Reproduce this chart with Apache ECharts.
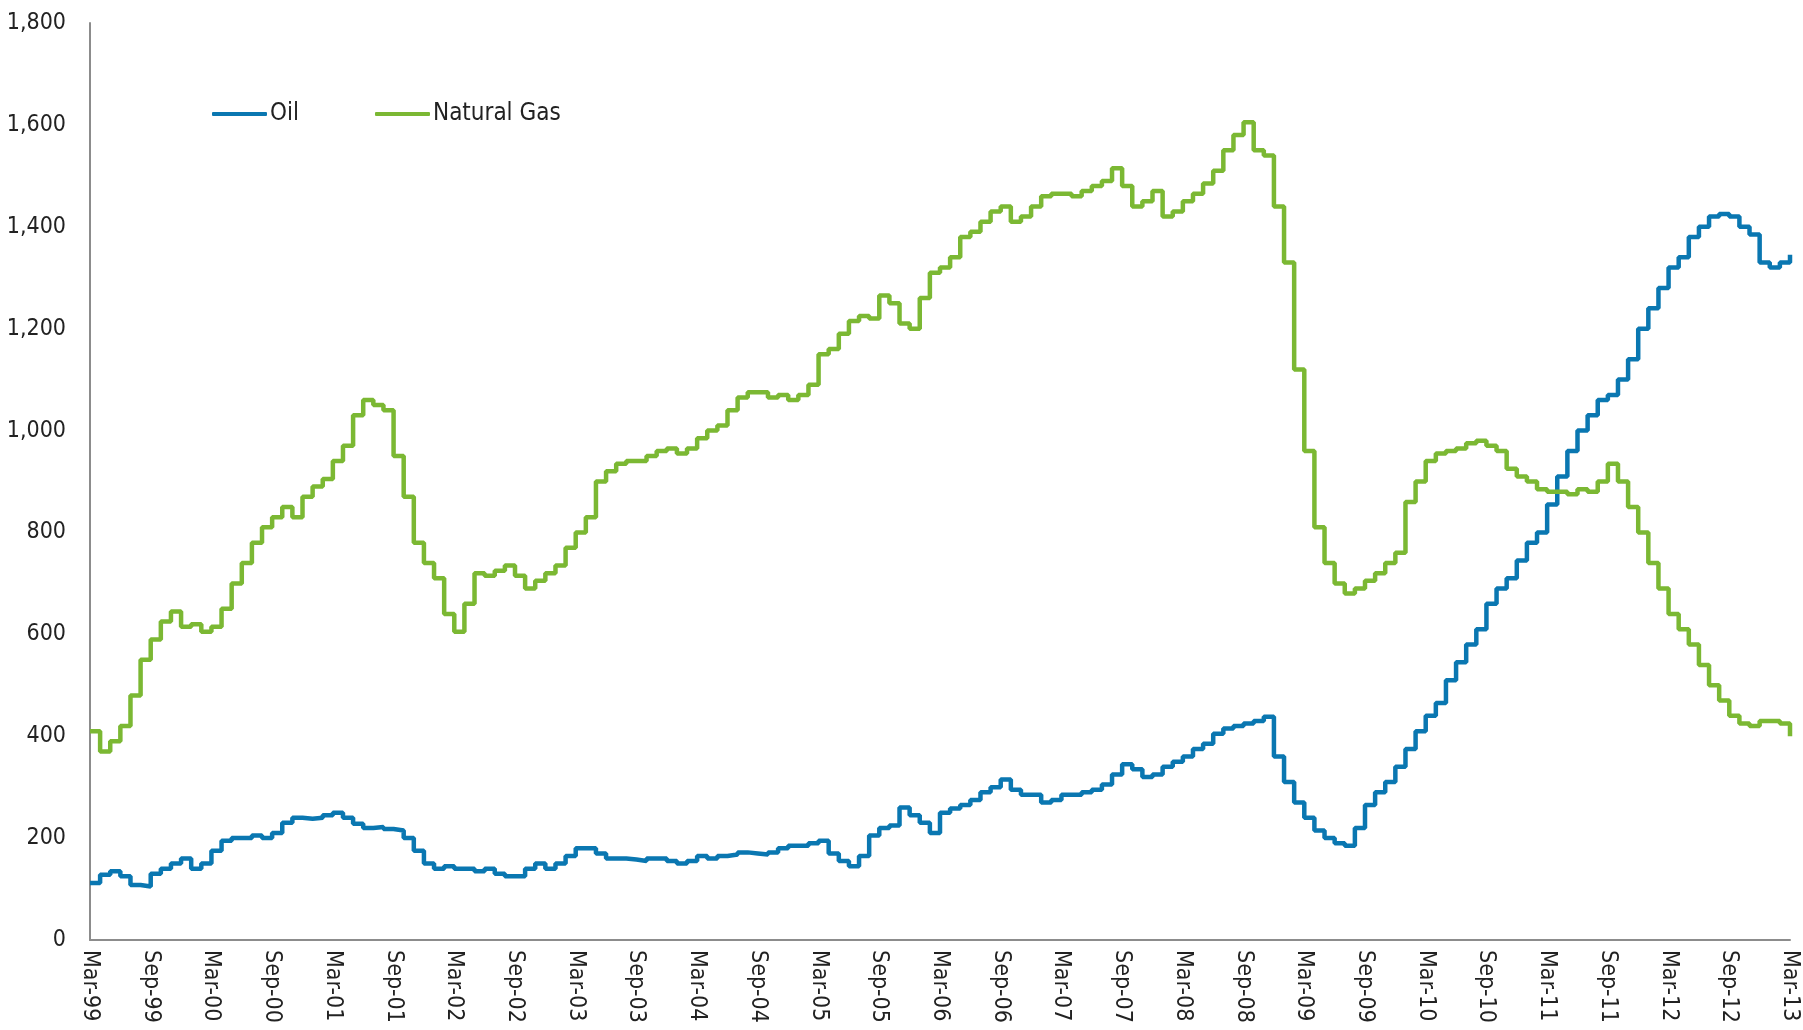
<!DOCTYPE html>
<html>
<head>
<meta charset="utf-8">
<title>Oil and Natural Gas rigs</title>
<script src="https://cdn.jsdelivr.net/npm/echarts@6/dist/echarts.min.js"></script>
<style>
  html, body { margin: 0; padding: 0; background: #fff; }
  #chart { width: 1803px; height: 1030px; }
</style>
</head>
<body>
<div id="chart"></div>
<script>
// monthly categories, Mar-99 .. Mar-13
const monthNames = ['Jan', 'Feb', 'Mar', 'Apr', 'May', 'Jun', 'Jul', 'Aug', 'Sep', 'Oct', 'Nov', 'Dec']
const months = (function () {
  const arr = []
  for (let i = 2; i <= 14 * 12 + 2; i++) {
    const y = 1999 + Math.floor(i / 12)
    arr.push(monthNames[i % 12] + '-' + String(y).slice(2))
  }
  return arr
})()

const yTicks = [0, 200, 400, 600, 800, 1000, 1200, 1400, 1600, 1800]

// Oil rigs, one value per month
const oil = [
  112, 128, 135, 125, 108, 105, 130, 140, 150, 160,           // Mar-99 .. Dec-99
  140, 150, 175, 195, 200, 200, 205, 200, 210, 230, 240, 238, // 2000
  240, 245, 250, 240, 228, 220, 222, 218, 215, 200, 175, 150, // 2001
  140, 145, 140, 140, 135, 140, 130, 125, 125, 140, 150, 140, // 2002
  150, 165, 180, 180, 170, 160, 160, 158, 155, 160, 160, 155, // 2003
  150, 155, 165, 160, 165, 168, 172, 170, 168, 172, 180, 185, // 2004
  185, 190, 195, 170, 155, 145, 165, 205, 220, 225, 260, 245, // 2005
  230, 210, 250, 258, 265, 275, 290, 300, 315, 295, 285, 285, // 2006
  270, 275, 285, 285, 290, 295, 305, 325, 345, 335, 320, 325, // 2007
  340, 350, 360, 375, 385, 405, 415, 420, 425, 430, 438, 360, // 2008
  310, 270, 240, 215, 200, 190, 185, 220, 265, 290, 310, 340, // 2009
  375, 410, 440, 465, 510, 545, 580, 610, 660, 690, 710, 745, // 2010
  780, 800, 855, 910, 960, 1000, 1030, 1060, 1070, 1100, 1140, 1200, // 2011
  1240, 1280, 1320, 1340, 1380, 1400, 1420, 1425, 1420, 1400, 1385, 1330, // 2012
  1320, 1330, 1345                                            // Jan-13 .. Mar-13
]

// Natural gas rigs, one value per month
const gas = [
  410, 370, 390, 420, 480, 550, 590, 625, 645, 615,           // Mar-99 .. Dec-99
  620, 605, 615, 650, 700, 740, 780, 810, 830, 850, 830, 870, // 2000
  890, 905, 940, 970, 1030, 1060, 1050, 1040, 950, 870, 780, 740, // 2001
  710, 640, 605, 660, 720, 715, 725, 735, 715, 690, 705, 720, // 2002
  735, 770, 800, 830, 900, 920, 935, 940, 940, 950, 960, 965, // 2003
  955, 965, 985, 1000, 1010, 1040, 1065, 1075, 1075, 1065, 1070, 1060, // 2004
  1070, 1090, 1150, 1160, 1190, 1215, 1225, 1220, 1265, 1250, 1210, 1200, // 2005
  1260, 1310, 1320, 1340, 1380, 1390, 1410, 1430, 1440, 1410, 1420, 1440, // 2006
  1460, 1465, 1465, 1460, 1470, 1480, 1490, 1515, 1480, 1440, 1450, 1470, // 2007
  1420, 1430, 1450, 1465, 1485, 1510, 1550, 1580, 1605, 1550, 1540, 1440, // 2008
  1330, 1120, 960, 810, 740, 700, 680, 690, 705, 720, 740, 760, // 2009
  860, 900, 940, 955, 960, 965, 975, 980, 970, 960, 925, 910, // 2010
  900, 885, 880, 880, 875, 885, 880, 900, 935, 900, 850, 800, // 2011
  740, 690, 640, 610, 580, 540, 500, 470, 440, 425, 420, 430, // 2012
  430, 425, 400                                               // Jan-13 .. Mar-13
]

const font = "'Liberation Sans Narrow', 'DejaVu Sans Condensed', 'Roboto', sans-serif"

const chart = echarts.init(document.getElementById('chart'))
chart.setOption({
  animation: false,
  textStyle: { fontFamily: font },
  grid: {
    left: 90,
    right: 13,
    top: 23,
    bottom: 90
  },
  legend: {
    left: 207,
    top: 97,
    icon: 'roundRect',
    itemWidth: 55,
    itemHeight: 4,
    itemGap: 76,
    textStyle: { fontSize: 24, color: '#222', fontFamily: font, padding: [0, 0, 0, -2] },
    data: ['Oil', 'Natural Gas']
  },
  xAxis: {
    type: 'category',
    boundaryGap: false,
    data: months,
    axisLine: { lineStyle: { color: '#8c8c8c', width: 2 } },
    axisTick: { show: false },
    axisLabel: {
      interval: 5,
      rotate: -90,
      margin: 10,
      fontSize: 23,
      color: '#222',
      fontFamily: font
    },
    splitLine: { show: false }
  },
  yAxis: {
    type: 'value',
    min: yTicks[0],
    max: yTicks[yTicks.length - 1],
    interval: 200,
    axisLine: { show: true, lineStyle: { color: '#8c8c8c', width: 2 } },
    axisTick: { show: false },
    axisLabel: {
      margin: 24,
      fontSize: 23,
      color: '#222',
      fontFamily: font,
      formatter: function (v) { return v.toLocaleString('en-US') }
    },
    splitLine: { show: false }
  },
  series: [
    {
      name: 'Oil',
      type: 'line',
      step: 'end',
      showSymbol: false,
      data: oil,
      itemStyle: { color: '#0a77b1' },
      lineStyle: { color: '#0a77b1', width: 4.5 }
    },
    {
      name: 'Natural Gas',
      type: 'line',
      step: 'end',
      showSymbol: false,
      data: gas,
      itemStyle: { color: '#7bb833' },
      lineStyle: { color: '#7bb833', width: 4.5 }
    }
  ]
})
</script>
</body>
</html>
